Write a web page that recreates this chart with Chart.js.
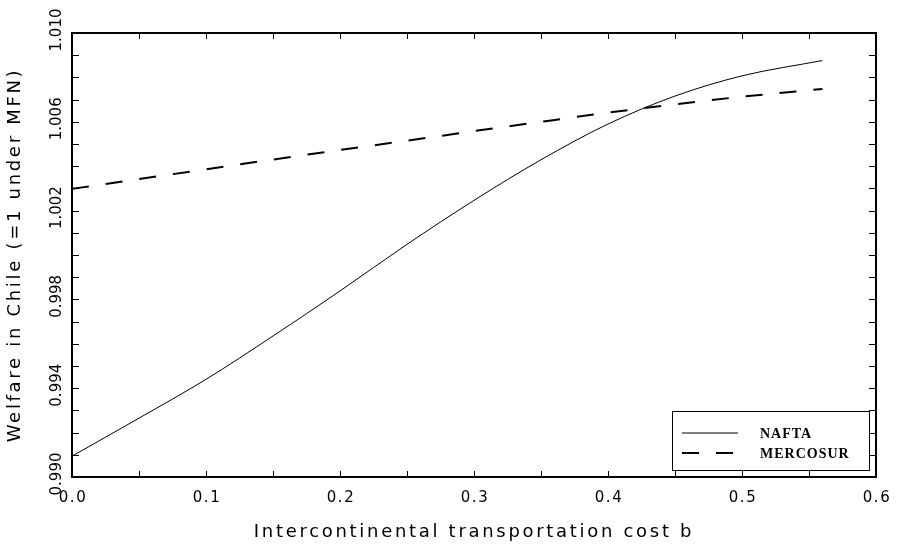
<!DOCTYPE html>
<html>
<head>
<meta charset="utf-8">
<script src="https://cdn.jsdelivr.net/npm/chart.js@4.4.1/dist/chart.umd.min.js"></script>
<style>
  html, body { margin: 0; padding: 0; background: #fff; }
  #wrap { width: 897px; height: 545px; }
</style>
</head>
<body>
<div id="wrap"><canvas id="myChart" width="897" height="545"></canvas></div>
<script>
// transportation cost b (x) and welfare index for each scenario
const costB = [0, 0.05, 0.1, 0.15, 0.2, 0.25, 0.3, 0.35, 0.4, 0.45, 0.5, 0.56];
const naftaWelfare = [0.99094, 0.99265, 0.99440, 0.99635, 0.99838, 1.00048, 1.00246, 1.00429, 1.00590, 1.00716, 1.00807, 1.00876];
const mercosurWelfare = [1.00298, 1.00342, 1.00386, 1.00430, 1.00473, 1.00515, 1.00558, 1.00600, 1.00641, 1.00679, 1.00713, 1.00748];

const xTickLabels = ['0.0', '0.1', '0.2', '0.3', '0.4', '0.5', '0.6'];
const yTickLabels = ['0.990', '0.994', '0.998', '1.002', '1.006', '1.010'];

const AXIS_FONT = '"DejaVu Sans", sans-serif';

function points(ys) {
    return costB.map((b, i) => ({ x: b, y: ys[i] }));
}

// wide spacing for the axis titles (drawn natively by the scales)
const spacingPlugin = {
    id: 'spacing',
    beforeDraw(chart) { chart.ctx.letterSpacing = '2.7px'; }
};

// frame, inward ticks, tick labels and the boxed legend
const framePlugin = {
    id: 'frame',
    afterDraw(chart) {
        const { ctx, chartArea: a, scales } = chart;
        ctx.save();
        ctx.strokeStyle = '#000';
        ctx.lineWidth = 1;
        ctx.beginPath();
        for (let v = 0.05; v < 0.6; v += 0.05) {
            const px = Math.round(scales.x.getPixelForValue(v)) + 0.5;
            ctx.moveTo(px, a.bottom); ctx.lineTo(px, a.bottom - 6);
            ctx.moveTo(px, a.top); ctx.lineTo(px, a.top + 6);
        }
        for (let k = 1; k < 20; k++) {
            const py = Math.round(scales.y.getPixelForValue(0.990 + k * 0.001)) + 0.5;
            ctx.moveTo(a.left, py); ctx.lineTo(a.left + 7, py);
            ctx.moveTo(a.right, py); ctx.lineTo(a.right - 7, py);
        }
        ctx.stroke();
        ctx.lineWidth = 2;
        ctx.strokeRect(a.left, a.top, a.right - a.left, a.bottom - a.top);

        ctx.fillStyle = '#000';
        ctx.font = '15px ' + AXIS_FONT;
        ctx.textAlign = 'center';
        ctx.textBaseline = 'middle';

        // x tick labels
        ctx.letterSpacing = '1.5px';
        xTickLabels.forEach(lbl => {
            const px = scales.x.getPixelForValue(parseFloat(lbl));
            ctx.fillText(lbl, px + 1, a.bottom + 21);
        });

        // rotated y tick labels
        ctx.letterSpacing = '0px';
        yTickLabels.forEach(lbl => {
            const py = scales.y.getPixelForValue(parseFloat(lbl));
            ctx.save();
            ctx.translate(57, py - 3);
            ctx.rotate(-Math.PI / 2);
            ctx.fillText(lbl, 0, 0);
            ctx.restore();
        });

        // legend box inside lower right
        const bx = a.right - 204, by = a.bottom - 66, bw = 197, bh = 59;
        ctx.fillStyle = '#fff';
        ctx.fillRect(bx, by, bw, bh);
        ctx.lineWidth = 1;
        ctx.strokeRect(bx + 0.5, by + 0.5, bw, bh);
        ctx.font = 'bold 14px "Liberation Serif", serif';
        ctx.letterSpacing = '1px';
        ctx.textAlign = 'left';
        chart.data.datasets.forEach((ds, i) => {
            const ly = by + 22 + i * 20;
            ctx.beginPath();
            ctx.lineWidth = ds.borderWidth;
            ctx.setLineDash(ds.borderDash || []);
            ctx.moveTo(bx + 10, ly);
            ctx.lineTo(bx + 66, ly);
            ctx.stroke();
            ctx.setLineDash([]);
            ctx.fillStyle = '#000';
            ctx.fillText(ds.label, bx + 88, ly + 1);
        });
        ctx.restore();
        ctx.letterSpacing = '0px';
    }
};

document.addEventListener('DOMContentLoaded', function () {
    const ctx = document.getElementById('myChart').getContext('2d');
    new Chart(ctx, {
        type: 'line',
        data: {
            datasets: [{
                label: 'NAFTA',
                data: points(naftaWelfare),
                borderColor: '#000',
                borderWidth: 1,
                pointRadius: 0,
                cubicInterpolationMode: 'monotone',
            }, {
                label: 'MERCOSUR',
                data: points(mercosurWelfare),
                borderColor: '#000',
                borderWidth: 2,
                borderDash: [17, 17],
                pointRadius: 0,
                cubicInterpolationMode: 'monotone',
            }]
        },
        options: {
            responsive: false,
            animation: false,
            layout: { padding: { left: 0, right: 21, top: 33, bottom: 0 } },
            plugins: { legend: { display: false }, tooltip: { enabled: false } },
            scales: {
                x: {
                    type: 'linear',
                    min: 0,
                    max: 0.6,
                    grid: { display: false, drawTicks: false },
                    border: { display: false },
                    ticks: { display: false, stepSize: 0.1 },
                    title: {
                        display: true,
                        text: 'Intercontinental transportation cost b',
                        color: '#000',
                        font: { family: AXIS_FONT, size: 18 },
                        padding: { top: 0, bottom: 2 },
                    },
                    afterFit: s => { s.height = 68; },
                },
                y: {
                    min: 0.990,
                    max: 1.010,
                    grid: { display: false, drawTicks: false },
                    border: { display: false },
                    ticks: { display: false },
                    title: {
                        display: true,
                        text: 'Welfare in Chile (=1 under MFN)',
                        color: '#000',
                        font: { family: AXIS_FONT, size: 18 },
                        padding: { top: 5, bottom: 0 },
                    },
                    afterFit: s => { s.width = 72; },
                }
            }
        },
        plugins: [spacingPlugin, framePlugin]
    });
});
</script>
</body>
</html>
